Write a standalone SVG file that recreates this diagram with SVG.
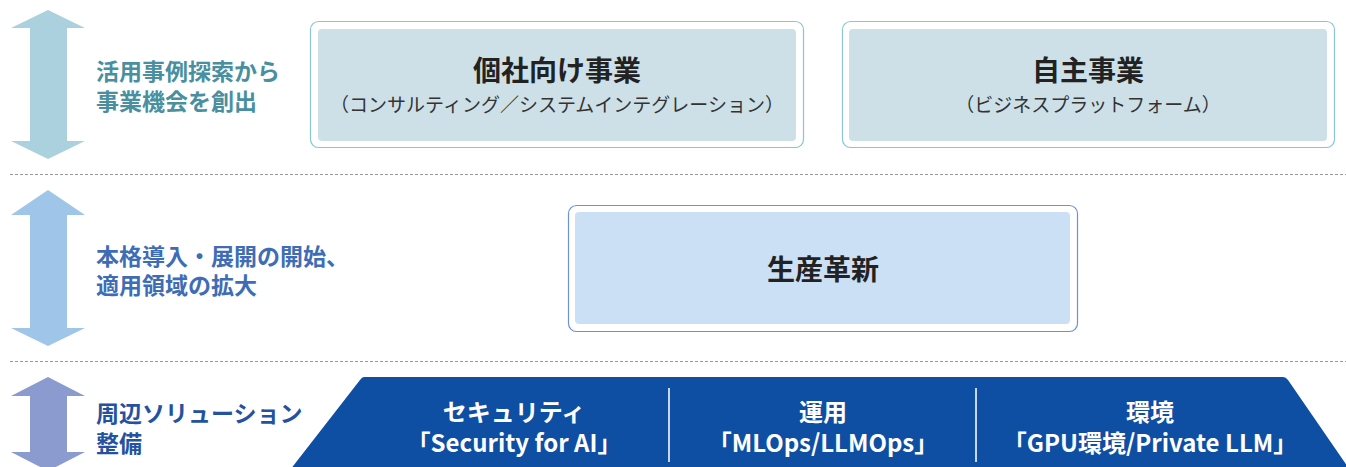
<svg xmlns="http://www.w3.org/2000/svg" width="1346" height="467" viewBox="0 0 1346 467">
<defs>
<style>
.jp{font-family:"Noto Sans CJK JP","Noto Sans",sans-serif}
.lbl{font-size:23px;font-weight:bold}
.ttl{font-size:28px;font-weight:bold;fill:#222}
.sub{font-size:19px;fill:#333}
.bt{font-size:24px;font-weight:bold;fill:#fff}
.sep{stroke:#999;stroke-width:1;stroke-dasharray:3 2}
.div{stroke:#c6d6ee;stroke-width:2}
</style>
</defs>
<rect width="1346" height="467" fill="#fff"/>
<g id="separators">
<line class="sep" x1="10" y1="174.5" x2="1346" y2="174.5"/>
<line class="sep" x1="10" y1="361.5" x2="1346" y2="361.5"/>
</g>
<g id="arrow-top">
<polygon fill="#aad1dd" points="48,10 85,28 67,28 67,141 85,141 48,159 11,141 30,141 30,28 11,28"/>
</g>
<g id="label-top">
<text class="jp lbl" fill="#4a8fa0" dominant-baseline="central"><tspan x="96" y="70">活用事例探索から</tspan><tspan x="96" y="100">事業機会を創出</tspan></text>
</g>
<g id="node-kosha">
<rect x="310.5" y="21.5" width="493" height="126" rx="8" fill="#fff" stroke="#8cc4d3" stroke-width="1.2"/>
<rect x="318" y="29" width="478" height="112" rx="4" fill="#cde0e8"/>
<text class="jp ttl" x="557" y="69" text-anchor="middle" dominant-baseline="central">個社向け事業</text>
<text class="jp sub" x="557" y="103" text-anchor="middle" dominant-baseline="central">（コンサルティング／システムインテグレーション）</text>
</g>
<g id="node-jishu">
<rect x="842.5" y="21.5" width="492" height="126" rx="8" fill="#fff" stroke="#8cc4d3" stroke-width="1.2"/>
<rect x="849" y="29" width="478" height="112" rx="4" fill="#cde0e8"/>
<text class="jp ttl" x="1088" y="69" text-anchor="middle" dominant-baseline="central">自主事業</text>
<text class="jp sub" x="1088" y="103" text-anchor="middle" dominant-baseline="central">（ビジネスプラットフォーム）</text>
</g>
<g id="arrow-mid">
<polygon fill="#9fc5e8" points="48,190 85,215 67,215 67,328 85,328 48,346 11,328 30,328 30,215 11,215"/>
</g>
<g id="label-mid">
<text class="jp lbl" fill="#3e6db5" dominant-baseline="central"><tspan x="96" y="255">本格導入・展開の開始、</tspan><tspan x="96" y="284">適用領域の拡大</tspan></text>
</g>
<g id="node-seisan">
<rect x="568.5" y="205.5" width="509" height="126" rx="8" fill="#fff" stroke="#6c93d0" stroke-width="1.2"/>
<rect x="575" y="212" width="495" height="112" rx="4" fill="#cbe0f4"/>
<text class="jp ttl" x="823" y="268" text-anchor="middle" dominant-baseline="central">生産革新</text>
</g>
<g id="arrow-bottom">
<polygon fill="#8b9bcf" points="48,377 85,396 67,396 67,452 85,452 48,471 11,452 30,452 30,396 11,396"/>
</g>
<g id="label-bottom">
<text class="jp lbl" fill="#2452a0" dominant-baseline="central"><tspan x="96" y="412">周辺ソリューション</tspan><tspan x="96" y="442">整備</tspan></text>
</g>
<g id="node-band">
<path d="M364,377 L1283,377 Q1286,377 1288,380 L1350,470 L290,470 L360,380 Q362,377 364,377 Z" fill="#0e4ea3"/>
<line class="div" x1="669" y1="388" x2="669" y2="462"/>
<line class="div" x1="976" y1="388" x2="976" y2="462"/>
</g>
<g id="node-security">
<text class="jp bt" text-anchor="middle" dominant-baseline="central"><tspan x="514" y="410">セキュリティ</tspan><tspan x="514" y="441">「Security for AI」</tspan></text>
</g>
<g id="node-unyo">
<text class="jp bt" text-anchor="middle" dominant-baseline="central"><tspan x="823" y="410">運用</tspan><tspan x="823" y="441">「MLOps/LLMOps」</tspan></text>
</g>
<g id="node-kankyo">
<text class="jp bt" text-anchor="middle" dominant-baseline="central"><tspan x="1150" y="410">環境</tspan><tspan x="1150" y="441">「GPU環境/Private LLM」</tspan></text>
</g>
<g id="connectors"></g>
</svg>
